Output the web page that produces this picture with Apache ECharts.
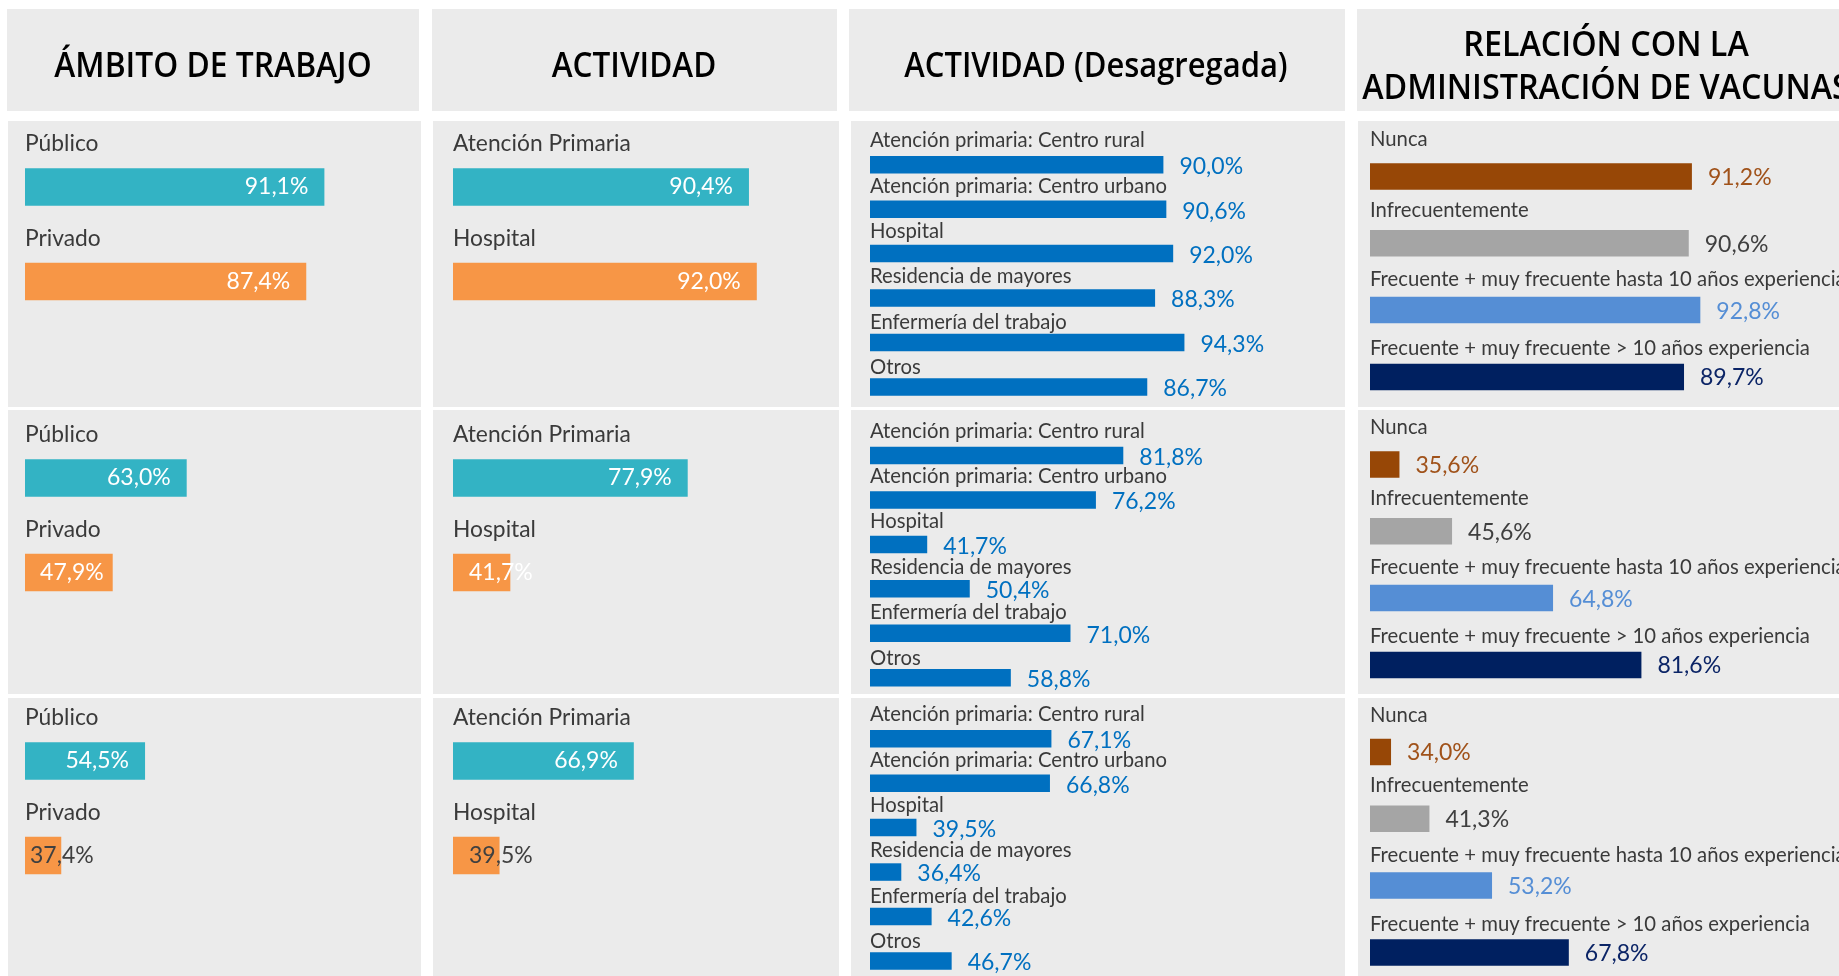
<!DOCTYPE html>
<html style="height: 100%">
<head>
  <meta charset="utf-8">
  <title>Vacunas - encuesta</title>
</head>
<body style="height: 100%; margin: 0; background: #fff">
<div id="container" style="width: 1839px; height: 976px"></div>
<script src="https://cdn.jsdelivr.net/npm/echarts@6/dist/echarts.min.js"></script>
<script>
  // ---- datos ----
  var headers = ['ÁMBITO DE TRABAJO', 'ACTIVIDAD', 'ACTIVIDAD (Desagregada)', 'RELACIÓN CON LA\nADMINISTRACIÓN DE VACUNAS'];

  var ambitoCats = ['Público', 'Privado'];
  var ambitoVals = [[91.1, 87.4], [63.0, 47.9], [54.5, 37.4]];

  var actividadCats = ['Atención Primaria', 'Hospital'];
  var actividadVals = [[90.4, 92.0], [77.9, 41.7], [66.9, 39.5]];

  var desagCats = ['Atención primaria: Centro rural', 'Atención primaria: Centro urbano', 'Hospital',
    'Residencia de mayores', 'Enfermería del trabajo', 'Otros'];
  var desagVals = [
    [90.0, 90.6, 92.0, 88.3, 94.3, 86.7],
    [81.8, 76.2, 41.7, 50.4, 71.0, 58.8],
    [67.1, 66.8, 39.5, 36.4, 42.6, 46.7]
  ];

  var vacunaCats = ['Nunca', 'Infrecuentemente', 'Frecuente + muy frecuente hasta 10 años experiencia',
    'Frecuente + muy frecuente > 10 años experiencia'];
  var vacunaVals = [[91.2, 90.6, 92.8, 89.7], [35.6, 45.6, 64.8, 81.6], [34.0, 41.3, 53.2, 67.8]];

  // ---- estilo / layout ----
  var FONT = 'Lato, "Open Sans", sans-serif';
  var PANEL = '#ebebeb';
  var CAT_COLOR = '#3a3a3a';
  var teal = '#33b3c4', orange = '#f79646';
  var vacColors = ['#974706', '#a5a5a5', '#558ed5', '#002060'];
  var vacLabelColors = ['#a0521a', '#404040', '#558ed5', '#0b2466'];

  var cols = [
    {cats: ambitoCats, vals: ambitoVals, x: 25, px: 4.9, first: [187, 478, 761], step: 94.5, barH: 37.5,
      catSize: 22.8, catOff: [43.5, 42.5], colors: [teal, orange]},
    {cats: actividadCats, vals: actividadVals, x: 453, px: 4.9, first: [187, 478, 761], step: 94.5, barH: 37.5,
      catSize: 22.8, catOff: [43.5, 42.5], colors: [teal, orange]},
    {cats: desagCats, vals: desagVals, x: 870, px: 4.89, first: [164.7, 455.5, 738.7], step: 44.45, barH: 17.5,
      catSize: 20.3, catOff: [24, 23, 22.5, 21.5, 20.5, 19], colors: ['#0070c0']},
    {cats: vacunaCats, vals: vacunaVals, x: 1370, px: 5.26, first: [176.5, 464.5, 752], step: 66.8, barH: 26.5,
      catSize: 20.3, catOff: [37, 33, 30.5, 28], colors: vacColors}
  ];

  // etiquetas que no caben dentro de la barra (col-fila-índice)
  var labelOverride = {
    '0-1-1': {position: 'insideRight', distance: 9},
    '0-2-1': {position: 'insideLeft', distance: 5, color: '#404040'},
    '1-1-1': {position: 'insideLeft', distance: 16},
    '1-2-1': {position: 'insideLeft', distance: 16, color: '#404040'}
  };

  function fmt(v) {
    return v.toFixed(1).replace('.', ',') + '%';
  }

  var grids = [], xAxes = [], yAxes = [], series = [];
  var graphics = [];

  var headRects = [[7, 9, 412, 102], [432, 9, 405, 102], [849, 9, 496, 102], [1357, 9, 520, 102]];
  var headCx = [213, 634, 1096, 1606];
  var headScale = [0.935, 0.927, 0.91, 0.95];
  var bodyCols = [[8, 413], [433, 406], [851, 494], [1358, 520]];
  var bodyRows = [[121, 286], [410, 284], [698, 290]];

  headRects.forEach(function (r, i) {
    graphics.push({type: 'rect', z: -10, shape: {x: r[0], y: r[1], width: r[2], height: r[3]}, style: {fill: PANEL}});
    graphics.push({
      type: 'text', x: headCx[i], y: 67.5, scaleX: headScale[i], z: 5,
      style: {
        text: headers[i], fill: '#000', font: '600 34px "Open Sans"', textAlign: 'center', textVerticalAlign: 'middle',
        lineHeight: 43
      }
    });
  });
  bodyRows.forEach(function (rw) {
    bodyCols.forEach(function (cl) {
      graphics.push({type: 'rect', z: -10, shape: {x: cl[0], y: rw[0], width: cl[1], height: rw[1]}, style: {fill: PANEL}});
    });
  });

  var k = 0;
  cols.forEach(function (col, c) {
    // una etiqueta "rich" por categoría para subirla sobre su barra
    var rich = {};
    col.catOff.forEach(function (off, i) {
      rich['c' + i] = {padding: [0, 0, 2 * off, 0], fontSize: col.catSize, fontFamily: FONT, color: CAT_COLOR};
    });
    col.vals.forEach(function (vals, r) {
      var n = col.cats.length;
      grids.push({
        left: col.x, top: col.first[r] - col.step / 2, width: 70 * col.px, height: n * col.step,
        outerBoundsMode: 'none', containLabel: false
      });
      xAxes.push({type: 'value', gridIndex: k, min: 30, max: 100, show: false});
      yAxes.push({
        type: 'category', gridIndex: k, inverse: true, data: col.cats,
        axisLine: {show: false}, axisTick: {show: false}, splitLine: {show: false},
        axisLabel: {
          inside: true, margin: 0, interval: 0, hideOverlap: false, verticalAlign: 'middle',
          color: CAT_COLOR, fontSize: col.catSize, fontFamily: FONT,
          formatter: function (value, idx) { return '{c' + idx + '|' + value + '}'; },
          rich: rich
        },
        z: 5
      });
      var baseLabel;
      if (c < 2) {
        baseLabel = {show: true, position: 'insideRight', distance: 16, color: '#fff', fontSize: 23, fontFamily: FONT};
      } else {
        baseLabel = {show: true, position: 'right', distance: 16, color: '#0070c0', fontSize: 23, fontFamily: FONT,
          offset: c === 2 ? [0, 2] : [0, 1]};
      }
      baseLabel.formatter = function (p) { return fmt(p.value); };
      series.push({
        type: 'bar', xAxisIndex: k, yAxisIndex: k, barWidth: col.barH, z: 3,
        label: baseLabel,
        data: vals.map(function (v, i) {
          var item = {value: v, itemStyle: {color: col.colors[i % col.colors.length]}};
          if (c === 3) item.label = {color: vacLabelColors[i]};
          var ov = labelOverride[c + '-' + r + '-' + i];
          if (ov) item.label = ov;
          return item;
        })
      });
      k++;
    });
  });

  var chart = echarts.init(document.getElementById('container'));
  chart.setOption({
    animation: false,
    backgroundColor: '#fff',
    graphic: {elements: graphics},
    grid: grids,
    xAxis: xAxes,
    yAxis: yAxes,
    series: series
  });
</script>
</body>
</html>
